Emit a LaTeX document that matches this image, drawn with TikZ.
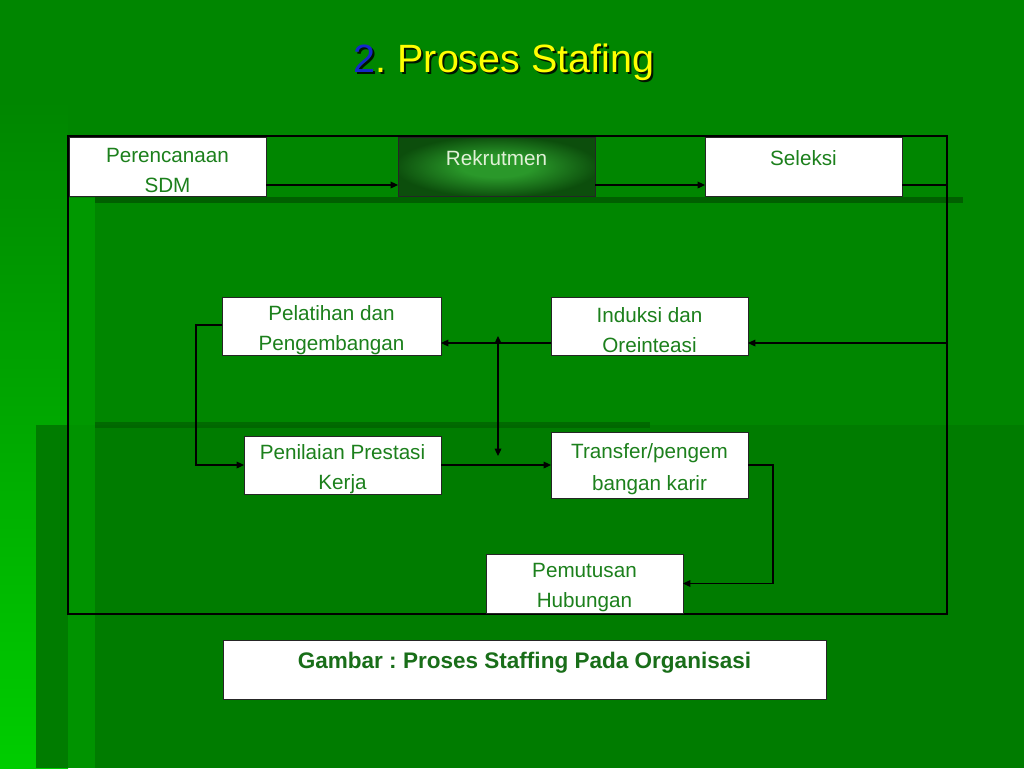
\documentclass[tikz,border=0pt]{standalone}
\usepackage{fontspec}
\setmainfont{Liberation Sans}
\usetikzlibrary{arrows.meta}
\frenchspacing
\definecolor{bgbase}{RGB}{0,134,0}
\definecolor{bgbright}{RGB}{0,205,0}
\definecolor{bgdark}{RGB}{0,124,0}
\definecolor{bglight}{RGB}{0,175,0}
\definecolor{bgbar}{RGB}{0,95,0}
\definecolor{txtgreen}{RGB}{28,128,28}
\definecolor{capgreen}{RGB}{25,110,25}
\definecolor{titleblue}{RGB}{20,40,200}
\definecolor{titleyellow}{RGB}{255,255,0}
\definecolor{rekin}{RGB}{42,152,42}
\definecolor{rekout}{RGB}{12,78,12}
\definecolor{rektxt}{RGB}{225,240,215}
\pgfdeclareradialshading{rekshade}{\pgfpoint{0bp}{0bp}}{color(0bp)=(rekin); color(9bp)=(rekin); color(26bp)=(rekout); color(50bp)=(rekout)}
\newcommand{\firstline}{\rule{0pt}{17.3pt}}
\tikzset{
  box/.style={draw=black!85, line width=0.6pt, fill=white, text=txtgreen,
    font=\fontsize{15.5pt}{22.5pt}\selectfont, align=center,
    minimum width=147.75pt, minimum height=44.25pt, inner xsep=2pt, inner ysep=0.2pt, outer sep=0pt},
  arr/.style={draw=black, line width=0.9pt, -{Triangle[length=5.5pt,width=5pt]}},
  dbl/.style={draw=black, line width=0.9pt, {Triangle[length=5.5pt,width=5pt]}-{Triangle[length=5.5pt,width=5pt]}},
  titlefont/.style={font=\fontsize{29.6pt}{36pt}\selectfont}
}
\begin{document}
\begin{tikzpicture}[x=0.75pt,y=-0.75pt]
\useasboundingbox (0,0) rectangle (1024,768);
% background
\fill[bgbase] (0,0) rectangle (1024,768);
\shade[top color=bgbase, bottom color=bgbright] (0,100) rectangle (68,768);
\fill[bgdark] (36,425) rectangle (1024,768);
\fill[bglight, fill opacity=0.45] (68,198) rectangle (95,768);
\fill[bgbar] (95,197) rectangle (963,203);
\fill[bgbar, fill opacity=0.7] (95,422) rectangle (650,428);
% title
\node[titlefont, text=black!80!green!40!black] (titleshadow) at (506,64) {2. Proses Stafing};
\node[titlefont] (title) at (504,62) {\textcolor{titleblue}{2}\textcolor{titleyellow}{. Proses Stafing}};
% frame
\draw[black, line width=0.8pt] (68,136) rectangle (947,614);
% boxes
\node[box] (per) at (167.5,166.5) {\firstline Perencanaan\\SDM};
\node[box, shading=rekshade, text=rektxt, text depth=13pt] (rek) at (496.5,166.5) {Rekrutmen};
\node[box, text depth=13pt] (sel) at (803.5,166.5) {Seleksi};
\node[box, minimum width=164.25pt, minimum height=43.5pt] (pel) at (331.5,326) {\firstline Pelatihan dan\\Pengembangan};
\node[box, minimum height=43.5pt] (ind) at (649.5,326) {\firstline Induksi dan\\Oreinteasi};
\node[box, minimum height=43.5pt] (pen) at (342.5,465) {\firstline Penilaian Prestasi\\Kerja};
\node[box, minimum height=49.5pt, font=\fontsize{15.5pt}{24pt}\selectfont] (tra) at (649.5,465) {\firstline Transfer/pengem\\bangan karir};
\node[box] (pem) at (584.5,583.5) {\firstline Pemutusan\\Hubungan};
\node[box, minimum width=452.25pt, text=capgreen, text depth=14.5pt, font=\bfseries\fontsize{16.9pt}{22.5pt}\selectfont] (cap) at (524.5,669.5) {Gambar : Proses Staffing Pada Organisasi};
% helper coordinates
\coordinate (k1) at (947,185);
\coordinate (v1) at (498,336);
\coordinate (v2) at (498,456);
\coordinate (k2) at (196,325);
\coordinate (k3) at (773,465);
% connectors
\draw[arr] (per.east |- 0,185) -- (rek.west |- 0,185);
\draw[arr] (rek.east |- 0,185) -- (sel.west |- 0,185);
\draw[arr] (sel.east |- 0,185) -- (k1) |- (ind.east |- 0,343);
\draw[arr] (ind.west |- 0,343) -- (pel.east |- 0,343);
\draw[dbl] (v1) -- (v2);
\draw[arr] (pel.west |- k2) -- (k2) |- (pen.west);
\draw[arr] (pen.east) -- (tra.west);
\draw[arr] (tra.east) -- (k3) |- (pem.east);
\end{tikzpicture}
\end{document}
